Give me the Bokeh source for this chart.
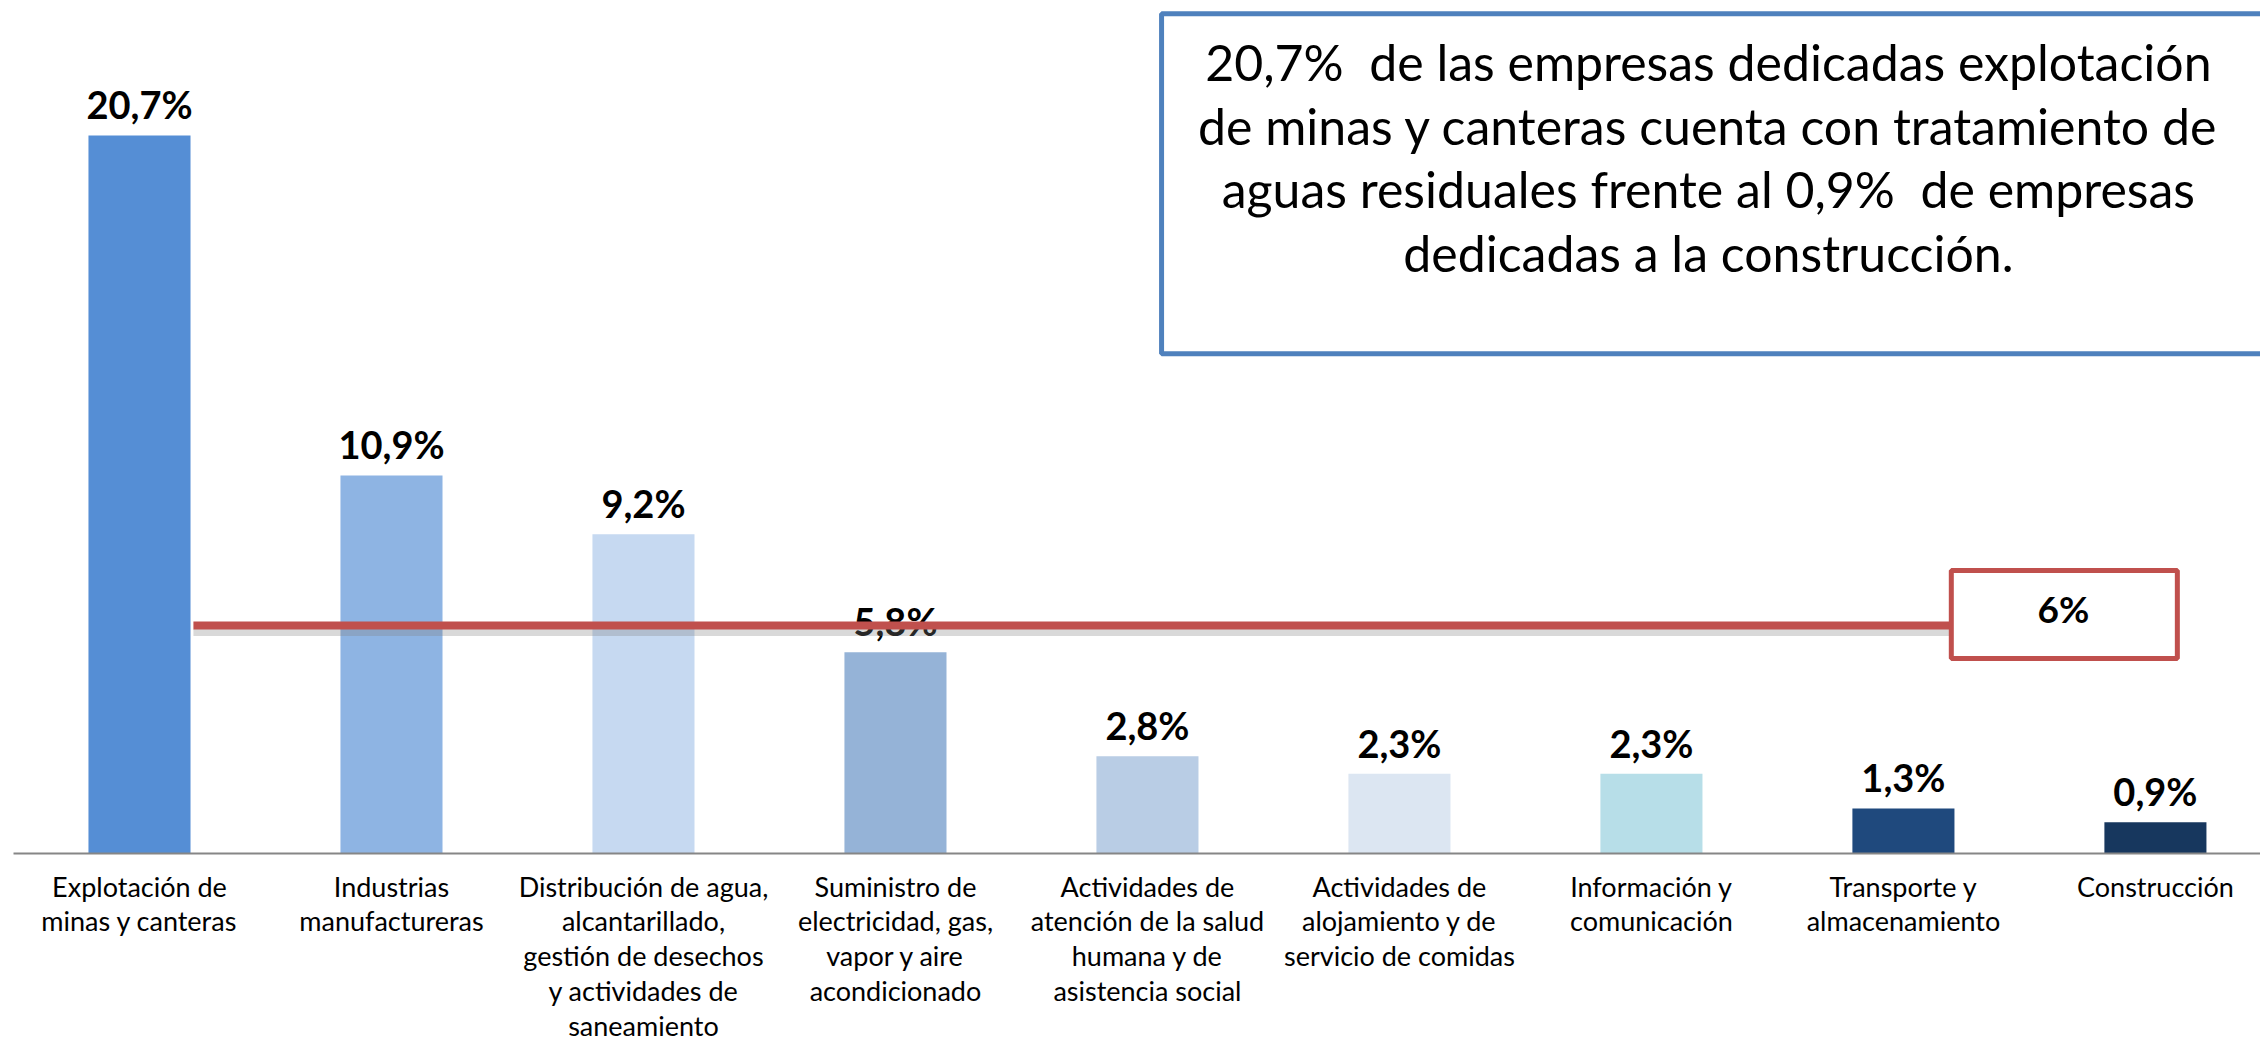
from bokeh.plotting import figure
from bokeh.models import Range1d, FixedTicker, BoxAnnotation, Label
from bokeh.core.properties import value
from bokeh.embed import file_html
from bokeh.resources import INLINE

categorias = [
    "Explotación de\nminas y canteras",
    "Industrias\nmanufactureras",
    "Distribución de agua,\nalcantarillado,\ngestión de desechos\ny actividades de\nsaneamiento",
    "Suministro de\nelectricidad, gas,\nvapor y aire\nacondicionado",
    "Actividades de\natención de la salud\nhumana y de\nasistencia social",
    "Actividades de\nalojamiento y de\nservicio de comidas",
    "Información y\ncomunicación",
    "Transporte y\nalmacenamiento",
    "Construcción",
]
valores = [20.7, 10.9, 9.2, 5.8, 2.8, 2.3, 2.3, 1.3, 0.9]
etiquetas = ["20,7%", "10,9%", "9,2%", "5,8%", "2,8%", "2,3%", "2,3%", "1,3%", "0,9%"]
colores = ["#558ED5", "#8EB4E3", "#C6D9F1", "#95B3D7", "#B9CDE5",
           "#DCE6F2", "#B7DEE8", "#1F497D", "#17375E"]
referencia_linea = 6.57
referencia_texto = "6%"
nota = ("20,7%\u00a0 de las empresas dedicadas explotación\n"
        "de minas y canteras cuenta con tratamiento de\n"
        "aguas residuales frente al 0,9%\u00a0 de empresas\n"
        "dedicadas a la construcción.")

idx = list(range(len(categorias)))

p = figure(width=2260, height=1046, output_backend="svg", toolbar_location=None,
           x_range=Range1d(-0.5, 8.417), y_range=Range1d(0, 24.59),
           y_axis_location=None,
           min_border_left=13, min_border_right=0, min_border_top=0, min_border_bottom=193)
p.outline_line_color = None
p.xgrid.grid_line_color = None
p.ygrid.grid_line_color = None
p.background_fill_color = "white"
p.border_fill_color = "white"

p.vbar(x=idx, top=valores, width=0.405, color=colores, line_color=None)

p.text(x=idx, y=valores, text=etiquetas, y_offset=-31, text_align="center",
       text_baseline="alphabetic", text_font=value("Lato"), text_font_style="bold",
       text_font_size="38px", text_color="black")

ax = p.xaxis[0]
ax.ticker = FixedTicker(ticks=idx)
ax.major_label_overrides = {i: c for i, c in zip(idx, categorias)}
ax.major_tick_line_color = None
ax.minor_tick_line_color = None
ax.axis_line_color = "#868686"
ax.axis_line_width = 2
ax.major_label_text_font = "Lato"
ax.major_label_text_font_size = "27px"
ax.major_label_text_line_height = 1.06
ax.major_label_text_color = "black"
ax.major_label_standoff = 10

# reference line with shadow
p.segment(x0=[0.214], y0=[referencia_linea - 0.2], x1=[7.19], y1=[referencia_linea - 0.2],
          line_color="#808080", line_alpha=0.3, line_width=7)
p.segment(x0=[0.214], y0=[referencia_linea], x1=[7.19], y1=[referencia_linea],
          line_color="#C0504D", line_width=8)

caja_roja = BoxAnnotation(left=7.19, right=8.087, top=8.16, bottom=5.62,
                          fill_color="white", fill_alpha=1.0,
                          line_color="#C0504D", line_alpha=1.0, line_width=5)
p.add_layout(caja_roja)
p.add_layout(Label(x=7.635, y=7.06, text=referencia_texto, text_align="center",
                   text_baseline="middle", text_font="Lato", text_font_style="bold",
                   text_font_size="37px", text_color="black"))

caja_azul = BoxAnnotation(left=4.056, right=9.5, top=24.21, bottom=14.41,
                          fill_color="white", fill_alpha=1.0,
                          line_color="#4F81BD", line_alpha=1.0, line_width=5)
p.add_layout(caja_azul)
p.add_layout(Label(x=6.226, y=20.06, text=nota, text_align="center",
                   text_baseline="middle", text_font="Lato",
                   text_font_size="50px", text_color="black", text_line_height=1.06))

open("out.html", "w").write(file_html(p, INLINE))
